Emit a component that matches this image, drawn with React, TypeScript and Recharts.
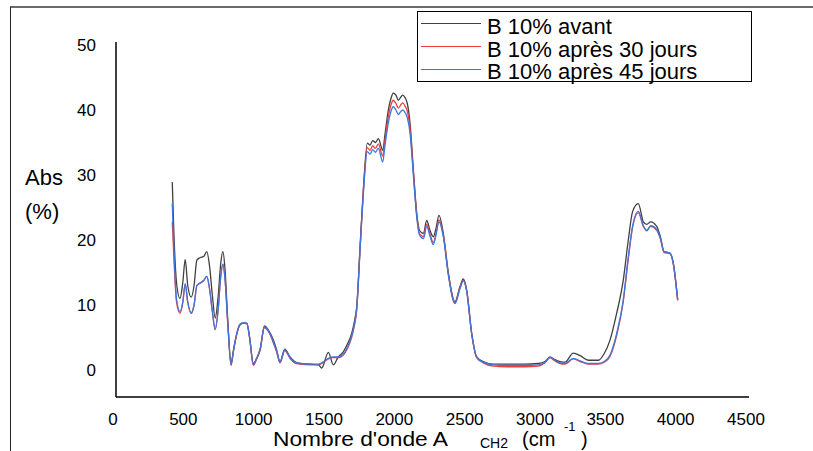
import React from 'react';
import { LineChart, Line, XAxis, YAxis } from 'recharts';

const FONT = '"Liberation Sans", Arial, Helvetica, sans-serif';

const wavenumbers = [
  400, 410, 430, 455, 475, 492, 510, 535, 555, 575,
  600, 625, 645, 665, 685, 705, 725, 745, 760, 775,
  795, 818, 835, 855, 880, 905, 930, 950, 976, 1000,
  1025, 1055, 1090, 1115, 1142, 1166, 1200, 1237, 1270, 1310,
  1380, 1440, 1462, 1510, 1545, 1580, 1616, 1645, 1675, 1695,
  1711, 1735, 1758, 1787, 1806, 1825, 1845, 1865, 1896, 1912,
  1936, 1955, 1971, 1990, 2007, 2022, 2038, 2055, 2071, 2090,
  2114, 2138, 2157, 2185, 2209, 2232, 2256, 2275, 2296, 2327,
  2363, 2410, 2445, 2469, 2493, 2529, 2564, 2611, 2682, 2777,
  2900, 3002, 3050, 3085, 3120, 3157, 3192, 3251, 3300, 3358,
  3429, 3470, 3512, 3559, 3606, 3642, 3673, 3713, 3749, 3773,
  3801, 3844, 3870, 3896, 3938, 3962, 3993,
];

const avant = [
  28.9, 22.0, 13.5, 11.0, 13.5, 17.0, 13.0, 11.2, 13.0, 16.9,
  17.3, 17.5, 18.2, 16.0, 11.5, 8.0, 11.0, 16.5, 18.2, 15.5,
  7.5, 1.0, 3.0, 5.2, 6.9, 7.2, 7.2, 5.0, 1.0, 1.8,
  3.1, 6.8, 5.9, 4.8, 3.1, 1.3, 3.2, 2.0, 1.3, 1.0,
  0.9, 0.8, 0.3, 2.7, 0.8, 2.0, 2.8, 4.0, 5.6, 7.5,
  9.7, 19.0, 27.7, 34.9, 34.6, 35.3, 35.0, 35.6, 33.8, 36.2,
  40.0, 41.8, 42.6, 42.3, 41.5, 41.9, 42.3, 41.9, 41.0, 38.0,
  30.8, 24.1, 21.5, 21.0, 23.0, 21.5, 20.5, 21.8, 23.8, 21.0,
  14.9, 10.5, 12.8, 14.0, 12.3, 5.6, 2.0, 1.3, 0.9, 0.9,
  0.9, 1.0, 1.3, 2.0, 1.6, 1.3, 1.2, 2.6, 2.2, 1.5,
  1.5, 2.5, 4.6, 8.7, 13.8, 20.0, 24.4, 25.6, 22.8, 22.4,
  22.8, 22.1, 20.5, 18.2, 18.0, 16.4, 10.8,
];

const apres30 = [
  22.8, 18.0, 10.5, 8.7, 10.4, 13.2, 10.4, 8.7, 10.0, 13.0,
  13.4, 13.8, 14.4, 12.5, 9.0, 6.2, 9.0, 14.5, 16.3, 14.0,
  7.0, 0.7, 2.9, 5.2, 6.9, 7.2, 7.1, 4.9, 0.7, 1.7,
  3.2, 6.5, 5.7, 4.4, 2.8, 1.1, 3.0, 1.8, 1.1, 0.9,
  0.8, 0.8, 1.0, 1.7, 1.9, 1.9, 2.3, 3.3, 5.0, 6.9,
  9.2, 18.6, 27.3, 34.2, 33.8, 34.5, 34.1, 34.8, 32.9, 35.3,
  39.0, 40.8, 41.5, 41.0, 40.3, 40.7, 41.1, 40.6, 39.8, 37.2,
  30.4, 23.8, 21.0, 20.5, 22.4, 20.9, 19.6, 21.0, 23.1, 20.7,
  14.7, 10.3, 12.6, 13.8, 12.2, 5.5, 1.9, 1.1, 0.6, 0.5,
  0.5, 0.6, 1.1, 1.9, 1.4, 1.0, 0.9, 1.7, 1.3, 0.9,
  0.9, 1.2, 2.1, 5.3, 10.5, 17.1, 22.0, 24.2, 22.1, 21.4,
  22.1, 21.5, 20.2, 18.1, 17.9, 16.3, 10.7,
];

const apres45 = [
  25.6, 19.5, 11.0, 9.0, 10.5, 13.3, 10.5, 8.8, 10.0, 13.0,
  13.4, 13.8, 14.4, 12.5, 9.0, 6.3, 9.0, 14.5, 16.3, 14.0,
  7.0, 0.8, 3.0, 5.3, 7.0, 7.3, 7.2, 5.0, 0.8, 1.8,
  3.3, 6.6, 5.8, 4.5, 2.9, 1.2, 3.1, 1.9, 1.2, 1.0,
  0.9, 0.9, 1.1, 1.8, 2.0, 2.0, 2.4, 3.5, 5.2, 7.0,
  9.3, 18.5, 27.0, 33.6, 33.2, 33.9, 33.5, 34.1, 32.0, 34.5,
  38.0, 39.8, 40.5, 40.0, 39.3, 39.7, 40.0, 39.6, 38.8, 36.5,
  30.0, 23.5, 20.8, 20.2, 22.1, 20.6, 19.3, 20.8, 22.8, 20.5,
  14.6, 10.2, 12.5, 13.7, 12.1, 5.5, 2.0, 1.2, 0.8, 0.7,
  0.7, 0.8, 1.2, 1.95, 1.5, 1.1, 1.0, 1.8, 1.4, 1.0,
  1.0, 1.3, 2.3, 5.6, 10.8, 17.4, 22.2, 24.4, 22.2, 21.5,
  22.2, 21.6, 20.3, 18.2, 18.0, 16.4, 10.8,
];

const xTicks = [0, 500, 1000, 1500, 2000, 2500, 3000, 3500, 4000, 4500];
const yTicks = [0, 10, 20, 30, 40, 50];

const seriesNames = ['B 10% avant', 'B 10% après 30 jours', 'B 10% après 45 jours'];
const seriesKeys = ['avant', 'j30', 'j45'];
const seriesColors = ['#404040', '#f03c3c', '#3a78e0'];

const data = wavenumbers.map((wn, i) => ({
  wn,
  avant: avant[i],
  j30: apres30[i],
  j45: apres45[i],
}));

const XTick = (props: any) => {
  const { x, y, payload } = props;
  return (
    <text x={x - 3} y={y + 28} textAnchor="middle" fontSize={17} fontFamily={FONT} fill="#000">
      {payload.value}
    </text>
  );
};

const YTick = (props: any) => {
  const { x, y, payload } = props;
  return (
    <text x={x - 20} y={y + 6} textAnchor="end" fontSize={17} fontFamily={FONT} fill="#000">
      {payload.value}
    </text>
  );
};

const XTitle = () => (
  <g fontFamily={FONT} fill="#000">
    <text x={273} y={446} fontSize={20} textLength={175} lengthAdjust="spacingAndGlyphs">Nombre d'onde A</text>
    <text x={480} y={448} fontSize={14}>CH2</text>
    <text x={522} y={446} fontSize={20}>(cm</text>
    <text x={564} y={431} fontSize={13}>-1</text>
    <text x={581} y={446} fontSize={20}>)</text>
  </g>
);

const YTitle = () => (
  <g fontFamily={FONT} fill="#000">
    <text x={25} y={185} fontSize={22}>Abs</text>
    <text x={25} y={219} fontSize={22}>(%)</text>
  </g>
);

export default function App() {
  return (
    <div
      style={{
        position: 'absolute',
        left: 0,
        top: 0,
        width: 813,
        height: 451,
        overflow: 'hidden',
        background: '#fff',
      }}
    >
      <div
        style={{
          position: 'absolute',
          left: 10,
          top: 6,
          width: 900,
          height: 600,
          borderTop: '2px solid #6a6a6a',
          borderLeft: '1px solid #222',
        }}
      />
      <div style={{ position: 'absolute', left: 0, top: 0 }}>
        <LineChart
          width={813}
          height={451}
          data={data}
          margin={{ top: 42, right: 64, bottom: 0, left: 0 }}
        >
          <XAxis
            dataKey="wn"
            type="number"
            domain={[0, 4500]}
            ticks={xTicks}
            interval={0}
            height={54}
            tickSize={0}
            tickMargin={0}
            tickLine={false}
            axisLine={{ stroke: '#000', strokeWidth: 1.5 }}
            tick={<XTick />}
            label={<XTitle />}
            allowDataOverflow
          />
          <YAxis
            type="number"
            domain={[-4.154, 50.46]}
            ticks={yTicks}
            interval={0}
            width={116}
            tickSize={0}
            tickMargin={0}
            tickLine={false}
            axisLine={{ stroke: '#000', strokeWidth: 1.5 }}
            tick={<YTick />}
            label={<YTitle />}
            allowDataOverflow
          />
          {seriesKeys.map((k, i) => (
            <Line
              key={k}
              dataKey={k}
              name={seriesNames[i]}
              type="monotone"
              stroke={seriesColors[i]}
              strokeWidth={1.3}
              dot={false}
              activeDot={false}
              isAnimationActive={false}
            />
          ))}
        </LineChart>
      </div>
      <div
        style={{
          position: 'absolute',
          left: 417,
          top: 11,
          width: 335,
          height: 71,
          boxSizing: 'border-box',
          border: '1.5px solid #000',
          background: '#fff',
          fontFamily: FONT,
          fontSize: 22,
          color: '#000',
        }}
      >
        {seriesNames.map((n, i) => (
          <div key={n}>
            <div
              style={{
                position: 'absolute',
                left: 3,
                top: 11 + i * 23,
                width: 60,
                height: 0,
                borderTop: `1.5px solid ${seriesColors[i]}`,
              }}
            />
            <div
              style={{
                position: 'absolute',
                left: 69,
                top: 2 + i * 22.5,
                lineHeight: '25px',
                whiteSpace: 'nowrap',
              }}
            >
              {n}
            </div>
          </div>
        ))}
      </div>
    </div>
  );
}
